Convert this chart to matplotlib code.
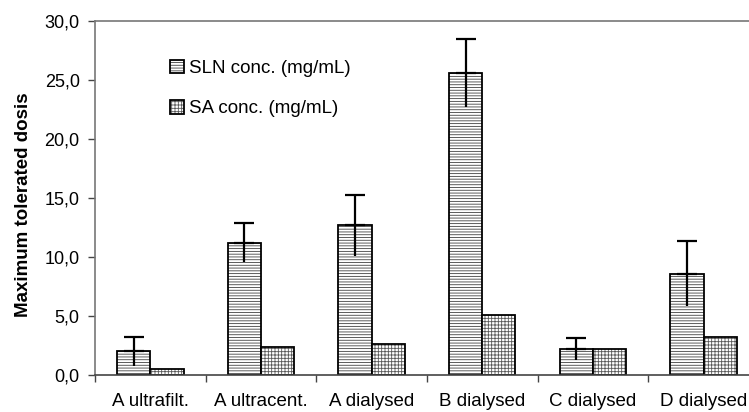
import matplotlib
matplotlib.use("Agg")
import matplotlib.pyplot as plt
import numpy as np
from matplotlib.ticker import FuncFormatter, FixedLocator

plt.rcParams['font.family'] = ['Liberation Sans', 'DejaVu Sans']
plt.rcParams['hatch.linewidth'] = 0.6

categories = ["A ultrafilt.", "A ultracent.", "A dialysed", "B dialysed", "C dialysed", "D dialysed"]
sln = [2.0, 11.2, 12.7, 25.6, 2.2, 8.6]
sln_err = [1.2, 1.65, 2.6, 2.85, 0.9, 2.75]
sa = [0.55, 2.35, 2.65, 5.05, 2.2, 3.25]

fig = plt.figure(figsize=(7.49, 4.12), dpi=100)
ax = fig.add_axes([0.1268, 0.0898, 0.8865, 0.859])

x = np.arange(len(categories))
w = 0.3
b1 = ax.bar(x - w / 2, sln, w, color='white', edgecolor='black', linewidth=1.3,
            hatch='------', label='SLN conc. (mg/mL)', zorder=2)
b2 = ax.bar(x + w / 2, sa, w, color='white', edgecolor='black', linewidth=1.3,
            hatch='+++++', label='SA conc. (mg/mL)', zorder=2)
for p in b1:
    p._hatch_color = (0.25, 0.25, 0.25, 1)
for p in b2:
    p._hatch_color = (0.35, 0.35, 0.35, 1)

zeros = [0] * len(sln)
ax.errorbar(x - w / 2, sln, yerr=[zeros, sln_err], fmt='none', ecolor='black',
            elinewidth=1.6, capsize=7, capthick=1.6, zorder=3)
ax.errorbar(x - w / 2, sln, yerr=[sln_err, zeros], fmt='none', ecolor='black',
            elinewidth=1.6, capsize=0, zorder=3)

ax.set_xlim(-0.5, len(categories) - 0.5)
ax.set_ylim(0, 30)
ax.yaxis.set_major_locator(FixedLocator([0, 5, 10, 15, 20, 25, 30]))
ax.yaxis.set_major_formatter(FuncFormatter(lambda v, p: f"{v:.1f}".replace('.', ',')))
ax.set_xticks(x)
ax.set_xticklabels(categories, fontsize=13.5)
ax.set_xticks(np.arange(len(categories) + 1) - 0.5, minor=True)
ax.tick_params(axis='x', which='major', length=0, pad=13)
ax.tick_params(axis='x', which='minor', length=5, width=1, color='#444444')
ax.tick_params(axis='y', length=5, width=1, color='#444444', labelsize=13, pad=6)
for s in ['left', 'top', 'right']:
    ax.spines[s].set_color('#777777')
    ax.spines[s].set_linewidth(1.2)
ax.spines['bottom'].set_color('#444444')
ax.spines['bottom'].set_linewidth(1.2)

ax.set_ylabel('Maximum tolerated dosis', fontsize=13.5, fontweight='bold')
ax.yaxis.set_label_coords(-0.095, 0.48)

leg = ax.legend(loc='upper left', bbox_to_anchor=(0.101, 0.912), frameon=False,
                fontsize=13.5, handlelength=0.75, handleheight=0.75, handletextpad=0.3,
                labelspacing=1.22, borderaxespad=0)

fig.savefig('out.png', dpi=100)
